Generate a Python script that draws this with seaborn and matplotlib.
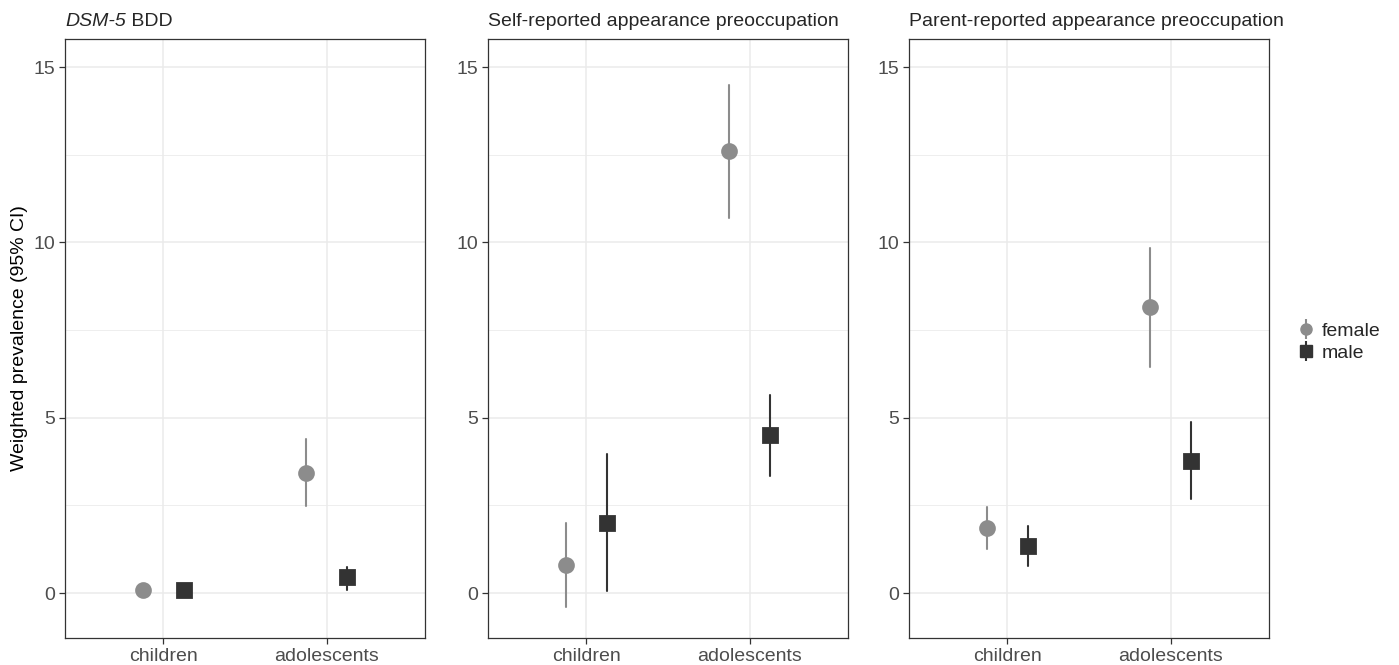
import numpy as np
import pandas as pd
import matplotlib
matplotlib.use("Agg")
import matplotlib.pyplot as plt
from matplotlib.lines import Line2D
from matplotlib.ticker import MultipleLocator
import seaborn as sns

ages = ["children", "adolescents"]
sexes = ["female", "male"]
panel_titles = ["DSM-5 BDD", "Self-reported appearance preoccupation",
                "Parent-reported appearance preoccupation"]

# estimates and 95% CI per panel, per sex, ordered as ages
bdd_female = [0.10, 3.42]
bdd_female_lo = [0.04, 2.48]
bdd_female_hi = [0.16, 4.40]
bdd_male = [0.08, 0.45]
bdd_male_lo = [0.02, 0.10]
bdd_male_hi = [0.14, 0.75]

self_female = [0.80, 12.60]
self_female_lo = [-0.40, 10.70]
self_female_hi = [2.00, 14.50]
self_male = [2.00, 4.50]
self_male_lo = [0.05, 3.35]
self_male_hi = [3.98, 5.65]

parent_female = [1.85, 8.15]
parent_female_lo = [1.27, 6.45]
parent_female_hi = [2.45, 9.85]
parent_male = [1.35, 3.77]
parent_male_lo = [0.78, 2.67]
parent_male_hi = [1.90, 4.88]

panels = [
    (bdd_female, bdd_female_lo, bdd_female_hi, bdd_male, bdd_male_lo, bdd_male_hi),
    (self_female, self_female_lo, self_female_hi, self_male, self_male_lo, self_male_hi),
    (parent_female, parent_female_lo, parent_female_hi, parent_male, parent_male_lo, parent_male_hi),
]

colors = {"female": "#8C8C8C", "male": "#333333"}
txt_col = "#4D4D4D"
grid_col = "#EBEBEB"
font = ["Liberation Sans", "DejaVu Sans"]
fs = 14

sns.set_style("white")
plt.rcParams["font.family"] = font


def make_frame(f, flo, fhi, m, mlo, mhi):
    rows = []
    for sex, est, lo, hi in [("female", f, flo, fhi), ("male", m, mlo, mhi)]:
        for i, age in enumerate(ages):
            for v in (lo[i], est[i], hi[i]):
                rows.append({"age": age, "sex": sex, "value": v})
    return pd.DataFrame(rows)


fig = plt.figure(figsize=(13.99, 6.65), dpi=100)
lefts = [65 / 1399, 488 / 1399, 909 / 1399]
w = 360 / 1399
bottom = 1 - 638 / 665
h = (638 - 39) / 665

for k, vals in enumerate(panels):
    ax = fig.add_axes([lefts[k], bottom, w, h])
    df = make_frame(*vals)
    sns.pointplot(data=df, x="age", y="value", hue="sex", order=ages, hue_order=sexes,
                  palette=colors, estimator="median",
                  errorbar=lambda v: (v.min(), v.max()),
                  markers=["o", "s"], linestyles=["none", "none"],
                  dodge=0.25, markersize=10, err_kws={"linewidth": 1.5},
                  legend=False, ax=ax, zorder=3)
    ax.set_xlim(-0.6, 1.6)
    ax.set_ylim(-1.28, 15.8)
    ax.yaxis.set_major_locator(MultipleLocator(5))
    ax.yaxis.set_minor_locator(MultipleLocator(2.5))
    ax.grid(which="major", color=grid_col, linewidth=1.1, zorder=0)
    ax.grid(which="minor", axis="y", color=grid_col, linewidth=0.6, zorder=0)
    ax.set_axisbelow(True)
    for s in ax.spines.values():
        s.set_color("#333333")
        s.set_linewidth(0.9)
    ax.tick_params(axis="both", which="major", length=4, width=0.9, color="#333333",
                   labelsize=fs, labelcolor=txt_col, pad=3, left=True, bottom=True)
    ax.tick_params(axis="y", which="minor", length=0)
    ax.set_xlabel("")
    if k == 0:
        ax.set_ylabel("Weighted prevalence (95% CI)", fontsize=fs, color="black", labelpad=4)
        t1 = ax.text(0, 1.015, "DSM-5", transform=ax.transAxes, fontsize=fs,
                     style="italic", va="bottom", ha="left")
        ax.annotate(" BDD", xy=(1, 0), xycoords=t1, fontsize=fs, va="bottom", ha="left")
    else:
        ax.set_ylabel("")
        ax.set_title(panel_titles[k], loc="left", fontsize=fs, pad=9)

handles = []
for sex, mk in zip(sexes, ["o", "s"]):
    bar = Line2D([], [], color=colors[sex], marker="|", markersize=15,
                 markeredgewidth=1.5, linestyle="none")
    pt = Line2D([], [], color=colors[sex], marker=mk, markersize=8, linestyle="none")
    handles.append((bar, pt))
fig.legend(handles, sexes, loc="center left", bbox_to_anchor=(1277 / 1399, 1 - 342 / 665),
           frameon=False, fontsize=fs, handlelength=1.2, handletextpad=0.2,
           labelspacing=0.25)

fig.savefig("out.png", dpi=100)
